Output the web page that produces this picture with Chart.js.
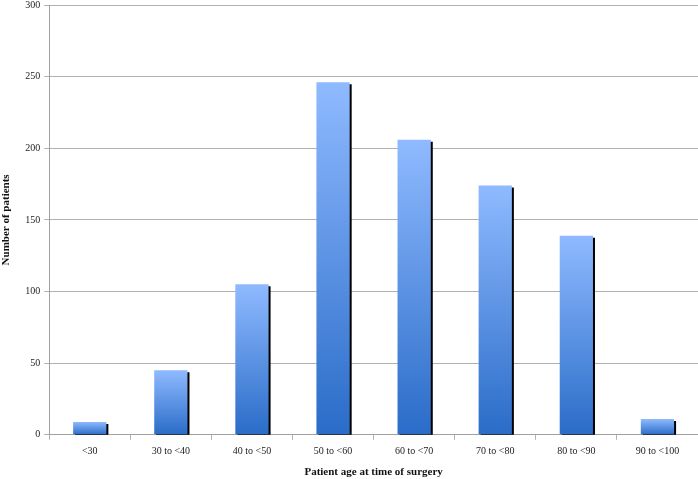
<!DOCTYPE html>
<html><head><meta charset="utf-8">
<script src="https://cdn.jsdelivr.net/npm/chart.js@4/dist/chart.umd.min.js"></script>
<style>html,body{margin:0;padding:0;background:#fff}#wrap{width:698px;height:479px}</style>
</head><body><div id="wrap"><canvas id="c"></canvas></div>
<script>
const categories = ["<30","30 to <40","40 to <50","50 to <60","60 to <70","70 to <80","80 to <90","90 to <100"];
const patients = [9,45,105,246,206,174,139,11];
const yTicks = [0,50,100,150,200,250,300];

const shadowPlugin = {
  id:'barShadow',
  beforeDatasetDraw(chart){ const c=chart.ctx; c.save(); c.shadowColor='#000'; c.shadowOffsetX=2; c.shadowOffsetY=2; c.shadowBlur=0; },
  afterDatasetDraw(chart){ chart.ctx.restore(); }
};

function barGrad(ctx){
  const chart = ctx.chart; const y = chart.scales && chart.scales.y;
  if(!y || !chart.chartArea || ctx.raw===undefined) return '#5a8fe0';
  const top = y.getPixelForValue(ctx.raw), base = y.getPixelForValue(0);
  const g = chart.ctx.createLinearGradient(0, top, 0, base);
  g.addColorStop(0,'#8fbaff');
  g.addColorStop(1,'#2a6cc8');
  return g;
}

new Chart(document.getElementById('c'),{
  type:'bar',
  data:{labels:categories,datasets:[{data:patients,backgroundColor:barGrad,borderWidth:0,barPercentage:0.41,categoryPercentage:1}]},
  plugins:[shadowPlugin],
  options:{
    responsive:true,maintainAspectRatio:false,animation:false,
    layout:{padding:{left:0,right:0,top:5,bottom:0}},
    plugins:{legend:{display:false},tooltip:{enabled:false}},
    scales:{
      x:{
        grid:{drawOnChartArea:false,offset:true,tickLength:5,color:'#b0b0b0'},
        border:{color:'#a0a0a0'},
        ticks:{color:'#222',font:{family:'Liberation Serif',size:10},padding:6},
        title:{display:true,text:'Patient age at time of surgery',color:'#111',font:{family:'Liberation Serif',size:11,weight:'bold'},padding:{top:2,bottom:0}}
      },
      y:{
        min:0,max:300,
        afterBuildTicks(s){ s.ticks = yTicks.map(v=>({value:v})); },
        afterFit(s){ s.paddingTop = 0; },
        grid:{color:'#b0b0b0',tickLength:5},
        border:{color:'#a0a0a0'},
        ticks:{color:'#222',font:{family:'Liberation Serif',size:10},padding:4},
        title:{display:true,text:'Number of patients',color:'#111',font:{family:'Liberation Serif',size:11,weight:'bold'},padding:{top:0,bottom:8}}
      }
    }
  }
});
</script></body></html>
